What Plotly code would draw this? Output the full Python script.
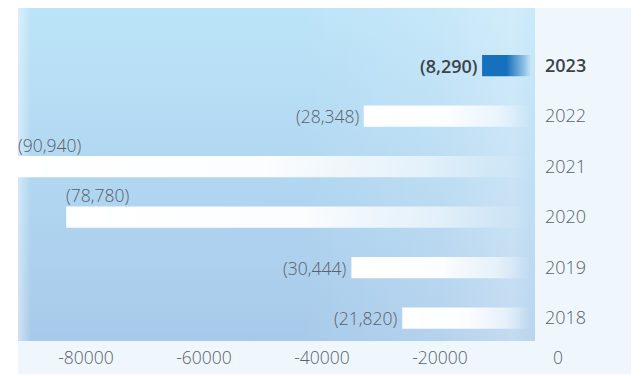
import plotly.graph_objects as go

# Annual results, oldest first (values in thousands)
years = ["2018", "2019", "2020", "2021", "2022", "2023"]
values = [-21820, -30444, -78780, -90940, -28348, -8290]
highlight_year = "2023"
x_ticks = [-80000, -60000, -40000, -20000, 0]

X_RANGE = [-86950, 680]
Y_RANGE = [-0.455, 6.139]
HALF = 0.21          # half bar thickness in category units
FONT = "Open Sans"
TEXT = "#59616a"
TEXT_DARK = "#3c434a"

WHITE_FADE = [[0, "rgba(255,255,255,1)"], [0.5, "rgba(255,255,255,0.96)"],
              [0.8, "rgba(255,255,255,0.6)"], [0.95, "rgba(255,255,255,0.12)"],
              [1, "rgba(255,255,255,0)"]]
BLUE_FADE = [[0, "rgba(21,112,189,1)"], [0.5, "rgba(21,112,189,1)"],
             [0.85, "rgba(21,112,189,0.35)"], [1, "rgba(21,112,189,0)"]]

fig = go.Figure()

# plot-area backdrop on a hidden unit axis pair
box_x = [0, 1, 1, 0, 0]
box_y = [0, 0, 1, 1, 0]
fig.add_trace(go.Scatter(
    x=box_x, y=box_y, fill="toself", mode="none", hoverinfo="skip",
    fillgradient=dict(type="vertical", colorscale=[
        [0, "#a8caea"], [0.5, "#b1d7f1"], [1, "#bce4f8"]]),
    xaxis="x", yaxis="y", showlegend=False))
fig.add_trace(go.Scatter(
    x=[0.55, 1, 1, 0.55, 0.55], y=box_y, fill="toself", mode="none", hoverinfo="skip",
    fillgradient=dict(type="horizontal", colorscale=[
        [0, "rgba(255,255,255,0)"], [0.6, "rgba(255,255,255,0.15)"],
        [0.9, "rgba(255,255,255,0.32)"], [1, "rgba(255,255,255,0.2)"]]),
    xaxis="x", yaxis="y", showlegend=False))
fig.add_trace(go.Scatter(
    x=[0, 0.025, 0.025, 0, 0], y=box_y, fill="toself", mode="none", hoverinfo="skip",
    fillgradient=dict(type="horizontal", colorscale=[
        [0, "rgba(255,255,255,0.45)"], [1, "rgba(255,255,255,0)"]]),
    xaxis="x", yaxis="y", showlegend=False))

# bars: filled rectangles from 0 to each value, fading toward the baseline
for i, (yr, v) in enumerate(zip(years, values)):
    fig.add_trace(go.Scatter(
        x=[v, 0, 0, v, v],
        y=[i - HALF, i - HALF, i + HALF, i + HALF, i - HALF],
        fill="toself", mode="none", hoverinfo="skip", showlegend=False,
        fillgradient=dict(type="horizontal",
                          colorscale=BLUE_FADE if yr == highlight_year else WHITE_FADE),
        xaxis="x2", yaxis="y2"))

# value labels: left of the bar end, or above the bar when there is no room
label_room = 13000
for i, (yr, v) in enumerate(zip(years, values)):
    txt = f"({abs(v):,})"
    bold = yr == highlight_year
    font = dict(family=FONT, size=18 if bold else 17.5, weight=600 if bold else 300,
                color=TEXT_DARK if bold else TEXT)
    if v < X_RANGE[0] + label_room:
        fig.add_annotation(x=max(v, X_RANGE[0]), y=i + HALF, xref="x2", yref="y2",
                           text=txt, showarrow=False, xanchor="left", yanchor="bottom",
                           yshift=-3, xshift=-2, font=font)
    else:
        fig.add_annotation(x=v, y=i, xref="x2", yref="y2", text=txt, showarrow=False,
                           xanchor="right", yanchor="middle", xshift=-3, font=font)

year_text = [f"<span style='font-weight:600;color:{TEXT_DARK}'>{y}</span>"
             if y == highlight_year else y for y in years]

fig.update_layout(
    width=641, height=376,
    margin=dict(l=18, r=106, t=8, b=35),
    paper_bgcolor="white",
    plot_bgcolor="rgba(0,0,0,0)",
    showlegend=False,
    xaxis=dict(range=[0, 1], visible=False, fixedrange=True),
    yaxis=dict(range=[0, 1], visible=False, fixedrange=True),
    xaxis2=dict(overlaying="x", anchor="y2", side="bottom", range=X_RANGE,
                tickvals=x_ticks, ticktext=[str(t) for t in x_ticks],
                showgrid=False, zeroline=False, showline=False, ticks="",
                ticklabelstandoff=4, ticklabelshift=27,
                tickfont=dict(family=FONT, size=17.5, weight=300, color=TEXT)),
    yaxis2=dict(overlaying="y", anchor="x2", side="right", range=Y_RANGE,
                tickvals=list(range(len(years))), ticktext=year_text,
                showgrid=False, zeroline=False, showline=False, ticks="",
                ticklabelstandoff=9,
                tickfont=dict(family=FONT, size=18, weight=300, color=TEXT)),
    shapes=[dict(type="rect", xref="paper", yref="paper", layer="below",
                 x0=0, x1=1.186, y0=-0.1, y1=1, line=dict(width=0),
                 fillcolor="#eff7fd")],
)

fig.write_html("out.html")
